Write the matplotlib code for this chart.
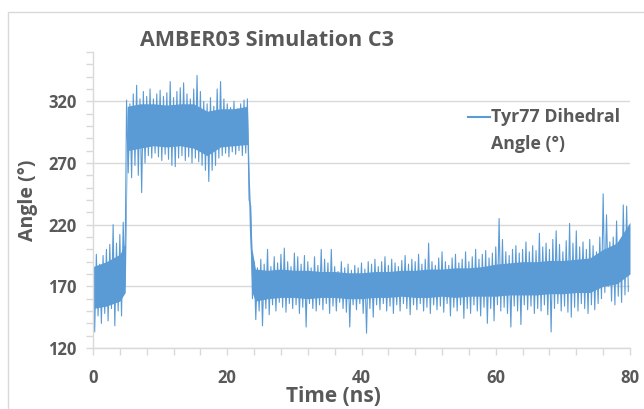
import numpy as np
import matplotlib.pyplot as plt
from matplotlib.patches import Rectangle
from matplotlib.lines import Line2D

# 값은 그림에서 읽은 추정치 (0.5 ns 구간마다 상단/하단)
time_ns = np.arange(0, 80, 0.5)
upper = [190, 196, 188, 195, 200, 204, 220, 205, 212, 222,
         321, 318, 326, 333, 322, 328, 324, 330, 322, 326,
         329, 324, 327, 336, 323, 328, 331, 335, 326, 322,
         330, 341, 328, 320, 318, 323, 316, 330, 336, 322,
         318, 315, 320, 314, 318, 321, 322, 235, 190, 185,
         192, 188, 200, 186, 194, 189, 196, 201, 190, 186,
         197, 194, 188, 195, 190, 185, 194, 187, 200, 192,
         189, 200, 186, 182, 190, 185, 188, 183, 187, 185,
         189, 184, 190, 188, 192, 186, 190, 194, 187, 192,
         189, 186, 191, 195, 188, 192, 190, 196, 188, 192,
         205, 190, 187, 193, 198, 190, 187, 193, 196, 189,
         192, 198, 190, 194, 200, 192, 196, 199, 193, 197,
         202, 225, 208, 198, 195, 200, 203, 197, 200, 206,
         198, 203, 199, 213, 202, 205, 200, 208, 215, 204,
         198, 207, 221, 205, 215, 202, 206, 200, 208, 203,
         198, 210, 245, 228, 206, 210, 223, 205, 236, 235]
lower = [133, 146, 140, 148, 142, 152, 138, 150, 146, 170,
         262, 258, 268, 260, 246, 270, 276, 274, 278, 275,
         272, 277, 273, 268, 267, 274, 276, 272, 275, 270,
         274, 271, 268, 264, 255, 264, 268, 274, 276, 278,
         275, 279, 277, 280, 276, 278, 240, 160, 143, 150,
         138, 152, 147, 155, 150, 157, 153, 149, 156, 152,
         155, 148, 153, 137, 156, 152, 150, 155, 151, 156,
         148, 154, 150, 157, 152, 149, 137, 155, 151, 156,
         148, 132, 152, 145, 155, 151, 156, 150, 154, 148,
         155, 150, 156, 152, 147, 155, 151, 156, 150, 153,
         148, 155, 151, 154, 149, 156, 146, 153, 150, 155,
         144, 152, 148, 155, 150, 146, 153, 140, 152, 142,
         155, 150, 153, 148, 137, 154, 150, 139, 155, 151,
         154, 148, 152, 150, 155, 147, 133, 152, 156, 150,
         154, 149, 145, 153, 150, 156, 152, 148, 155, 151,
         156, 160, 165, 170, 158, 155, 162, 157, 163, 166]

# 촘촘한 중심 띠
core_t = [0, 2, 4, 4.8, 5.1, 7, 9, 11, 13, 15, 17, 19, 21, 23.0, 23.3, 23.7, 24.2,
          26, 28, 30, 32, 34, 36, 38, 40, 42, 44, 46, 48, 50, 52, 54, 56, 58,
          60, 62, 64, 66, 68, 70, 72, 74, 76, 78, 80]
core_lo = [152, 154, 158, 165, 280, 282, 284, 283, 284, 282, 276, 283, 284, 285, 215, 165, 158,
           160, 161, 161, 160, 161, 161, 160, 160, 161, 161, 162, 161, 161, 162, 161, 162, 162,
           162, 163, 163, 163, 164, 164, 165, 165, 170, 172, 180]
core_hi = [186, 190, 196, 205, 316, 318, 318, 317, 318, 318, 312, 314, 314, 316, 255, 200, 184,
           183, 184, 183, 183, 182, 182, 181, 181, 182, 182, 183, 183, 184, 184, 185, 185, 186,
           188, 189, 190, 190, 191, 191, 192, 193, 200, 205, 222]

# 상단/하단 값을 번갈아 이어서 선으로 그림
x = np.column_stack([time_ns, time_ns + 0.25]).ravel()
y = np.column_stack([upper, lower]).ravel()

blue = '#5b9bd5'
grey = '#d9d9d9'
txt = '#595959'
plt.rcParams['font.family'] = ['Open Sans', 'DejaVu Sans']

fig = plt.figure(figsize=(6.44, 4.09), dpi=100)
fig.patches.append(Rectangle((8 / 644, -0.05), 1.2, 1.05 - 12 / 409,
                             transform=fig.transFigure, fill=False,
                             edgecolor=grey, linewidth=1.0))

ax = fig.add_axes([93 / 644, 1 - 348 / 409, (630 - 93) / 644, (348 - 52) / 409])
ax.fill_between(core_t, core_lo, core_hi, color=blue, linewidth=0)
ax.plot(x, y, color=blue, linewidth=0.8)

ax.set_xlim(0, 80)
ax.set_ylim(120, 360)
ax.set_xticks(np.arange(0, 81, 20))
ax.set_xticks(np.arange(0, 81, 4), minor=True)
ax.set_yticks(np.arange(120, 321, 50))
ax.set_yticks(np.arange(120, 361, 10), minor=True)
ax.grid(axis='y', which='major', color=grey, linewidth=1.0)
ax.set_axisbelow(True)

for s in ['top', 'right']:
    ax.spines[s].set_visible(False)
for s in ['left', 'bottom']:
    ax.spines[s].set_color(grey)
    ax.spines[s].set_linewidth(1.0)

ax.tick_params(which='both', direction='out', color=grey, width=1.0, length=5)
ax.tick_params(axis='y', labelsize=12, labelcolor=txt, pad=7)
ax.tick_params(axis='x', labelsize=12, labelcolor=txt, pad=10)
for lab in ax.get_xticklabels() + ax.get_yticklabels():
    lab.set_fontweight('bold')

fig.text(267 / 644, 1 - 40 / 409, 'AMBER03 Simulation C3', ha='center', va='center',
         fontsize=15.5, fontweight='bold', color=txt)
fig.text(333 / 644, 1 - 397 / 409, 'Time (ns)', ha='center', va='center',
         fontsize=15, fontweight='bold', color=txt)
fig.text(28 / 644, 1 - 200 / 409, 'Angle (°)', ha='center', va='center', rotation=90,
         fontsize=14, fontweight='bold', color=txt)

# 범례
fig.lines.append(Line2D([468 / 644, 490 / 644], [1 - 117 / 409, 1 - 117 / 409],
                        transform=fig.transFigure, color=blue, linewidth=1.5))
fig.text(491 / 644, 1 - 117 / 409, 'Tyr77 Dihedral', ha='left', va='center',
         fontsize=12.8, fontweight='bold', color=txt)
fig.text(491 / 644, 1 - 144 / 409, 'Angle (°)', ha='left', va='center',
         fontsize=12.8, fontweight='bold', color=txt)

fig.savefig('out.png', dpi=100)
